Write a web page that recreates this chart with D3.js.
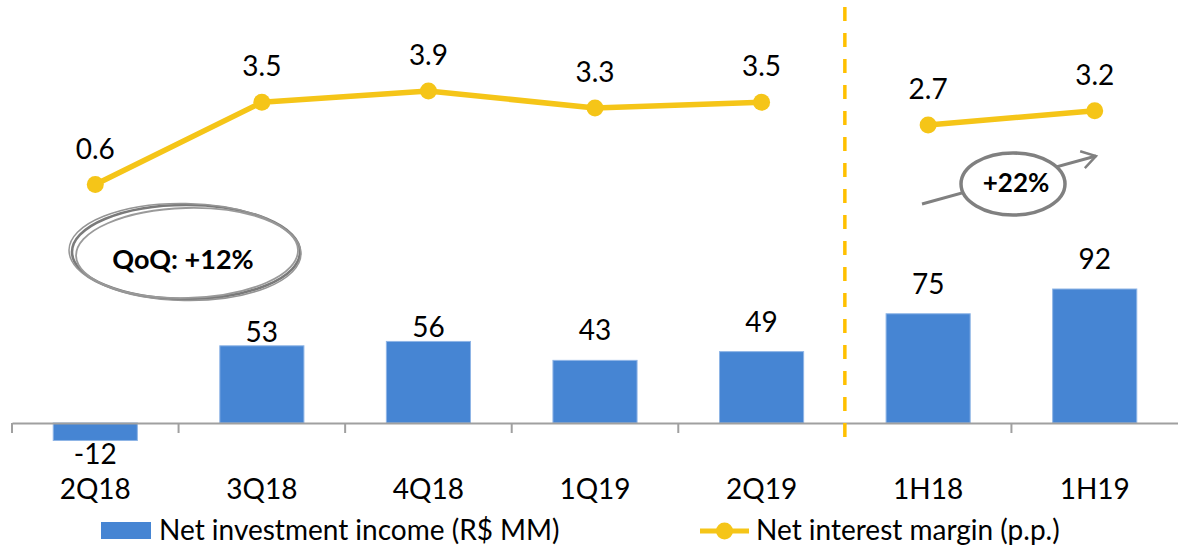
<!DOCTYPE html>
<html>
<head>
<meta charset="utf-8">
<script src="https://cdn.jsdelivr.net/npm/d3@7/dist/d3.min.js"></script>
<style>
  html, body { margin: 0; padding: 0; background: #fff; }
  svg { display: block; font-family: Lato, "Open Sans", sans-serif; }
</style>
</head>
<body>
<svg id="chart" width="1178" height="548"></svg>
<script>
// Periods on the category axis
const categories = ["2Q18", "3Q18", "4Q18", "1Q19", "2Q19", "1H18", "1H19"];
// Net investment income, R$ MM
const incomeValues = [-12, 53, 56, 43, 49, 75, 92];
// Net interest margin, p.p.
const marginValues = [0.6, 3.5, 3.9, 3.3, 3.5, 2.7, 3.2];
// Quarterly points and half-year points are drawn as separate line runs
const quarterPeriods = ["2Q18", "3Q18", "4Q18", "1Q19", "2Q19"];
const halfPeriods = ["1H18", "1H19"];
// Legend labels and callouts
const legendLabels = ["Net investment income (R$ MM)", "Net interest margin (p.p.)"];
const qoqText = "QoQ: +12%";
const yoyText = "+22%";

const BLUE = "#4685d3";
const GOLD = "#f5c518";
const DASH = "#ffc000";
const GREY = "#808080";

const svg = d3.select("#chart");

const x = d3.scaleBand().domain(categories).range([12, 1178]).padding(0);
const yBar = d3.scaleLinear().domain([0, 92]).range([423, 289]);
const yLine = d3.scaleLinear().domain([0.6, 3.9]).range([184.5, 91]);
const barW = x.bandwidth() * 0.505;
const cx = c => x(c) + x.bandwidth() / 2;

const income = categories.map((c, i) => ({ c, v: incomeValues[i] }));
const margin = categories.map((c, i) => ({ c, v: marginValues[i] }));

// Bars
svg.append("g").selectAll("rect")
  .data(income).join("rect")
  .attr("x", d => cx(d.c) - barW / 2)
  .attr("y", d => yBar(Math.max(0, d.v)))
  .attr("width", barW)
  .attr("height", d => Math.abs(yBar(d.v) - yBar(0)))
  .attr("fill", BLUE)
  .attr("stroke", "#8fb5e6")
  .attr("stroke-width", 1);

// Category axis along zero
const axis = d3.axisBottom(x).tickSize(0).tickFormat("");
const axisG = svg.append("g").attr("transform", `translate(0,${yBar(0)})`).call(axis);
axisG.select(".domain").attr("stroke", "#a0a0a0").attr("stroke-width", 2);
axisG.selectAll(".tick").remove();
const boundaries = categories.map(c => x(c));
svg.append("g").selectAll("line")
  .data(boundaries).join("line")
  .attr("x1", d => d).attr("x2", d => d)
  .attr("y1", yBar(0)).attr("y2", yBar(0) + 10)
  .attr("stroke", "#a0a0a0").attr("stroke-width", 2);

// Category labels
svg.append("g").selectAll("text")
  .data(categories).join("text")
  .attr("x", d => cx(d)).attr("y", 499)
  .attr("text-anchor", "middle")
  .attr("font-size", 28)
  .attr("fill", "#000")
  .text(d => d);

// Bar value labels
const labelLift = { "3Q18": 4, "4Q18": 4 };
svg.append("g").selectAll("text")
  .data(income).join("text")
  .attr("x", d => cx(d.c))
  .attr("y", d => d.v < 0 ? yBar(d.v) + 24 : yBar(d.v) - (labelLift[d.c] ?? 20))
  .attr("text-anchor", "middle")
  .attr("font-size", 28)
  .attr("fill", "#000")
  .text(d => String(d.v));

// Separator between quarterly and half-year groups
const sepX = x("1H18");
svg.append("line")
  .attr("x1", sepX).attr("x2", sepX)
  .attr("y1", 7).attr("y2", 443)
  .attr("stroke", DASH).attr("stroke-width", 3.5)
  .attr("stroke-dasharray", "14 12");

// Margin line runs
const lineGen = d3.line().x(d => cx(d.c)).y(d => yLine(d.v));
const runs = [quarterPeriods, halfPeriods].map(set => margin.filter(d => set.includes(d.c)));
svg.append("g").selectAll("path")
  .data(runs).join("path")
  .attr("d", lineGen)
  .attr("fill", "none")
  .attr("stroke", GOLD)
  .attr("stroke-width", 5.5)
  .attr("stroke-linejoin", "round");
svg.append("g").selectAll("circle")
  .data(margin).join("circle")
  .attr("cx", d => cx(d.c)).attr("cy", d => yLine(d.v))
  .attr("r", 8.5).attr("fill", GOLD);
svg.append("g").selectAll("text")
  .data(margin).join("text")
  .attr("x", d => cx(d.c)).attr("y", d => yLine(d.v) - 26)
  .attr("text-anchor", "middle")
  .attr("font-size", 28)
  .attr("fill", "#000")
  .text(d => d3.format(".1f")(d.v));

// QoQ callout: hand-drawn style double ellipse
const qoq = svg.append("g").attr("transform", "translate(186,252)");
qoq.append("ellipse").attr("rx", 114).attr("ry", 47)
  .attr("fill", "#fff").attr("stroke", "#7a7a7a").attr("stroke-width", 2.6);
qoq.append("ellipse").attr("rx", 111).attr("ry", 45).attr("cx", 1).attr("cy", 1)
  .attr("transform", "rotate(-1.5)")
  .attr("fill", "none").attr("stroke", "#9a9a9a").attr("stroke-width", 1.8);
qoq.append("ellipse").attr("rx", 116).attr("ry", 48.5).attr("cx", -1)
  .attr("transform", "rotate(1)")
  .attr("fill", "none").attr("stroke", "#959595").attr("stroke-width", 1.5);
qoq.append("text").attr("x", -3).attr("y", 17)
  .attr("text-anchor", "middle").attr("font-size", 27).attr("font-weight", 700)
  .attr("fill", "#000").text(qoqText);

// Half-year growth callout with arrow
const defs = svg.append("defs");
defs.append("marker").attr("id", "chev")
  .attr("viewBox", "0 0 12 12").attr("refX", 10).attr("refY", 6)
  .attr("markerWidth", 7).attr("markerHeight", 7)
  .attr("markerUnits", "strokeWidth").attr("orient", "auto")
  .append("path").attr("d", "M2,1 L10,6 L2,11")
  .attr("fill", "none").attr("stroke", GREY).attr("stroke-width", 1.4);
svg.append("line")
  .attr("x1", 922).attr("y1", 204).attr("x2", 1096).attr("y2", 156)
  .attr("stroke", GREY).attr("stroke-width", 3)
  .attr("marker-end", "url(#chev)");
svg.append("ellipse").attr("cx", 1013).attr("cy", 184)
  .attr("rx", 52).attr("ry", 31)
  .attr("fill", "#fff").attr("stroke", GREY).attr("stroke-width", 3.5);
svg.append("text").attr("x", 1016).attr("y", 192)
  .attr("text-anchor", "middle").attr("font-size", 26).attr("font-weight", 700)
  .attr("fill", "#000").text(yoyText);

// Legend
const lg = svg.append("g");
lg.append("rect").attr("x", 101).attr("y", 522).attr("width", 50).attr("height", 17).attr("fill", BLUE);
lg.append("text").attr("x", 159).attr("y", 540).attr("font-size", 28).attr("fill", "#000").text(legendLabels[0]);
lg.append("line").attr("x1", 700).attr("x2", 749).attr("y1", 531).attr("y2", 531)
  .attr("stroke", GOLD).attr("stroke-width", 5);
lg.append("circle").attr("cx", 724.5).attr("cy", 531).attr("r", 8.5).attr("fill", GOLD);
lg.append("text").attr("x", 756).attr("y", 540).attr("font-size", 28).attr("fill", "#000").text(legendLabels[1]);
</script>
</body>
</html>
